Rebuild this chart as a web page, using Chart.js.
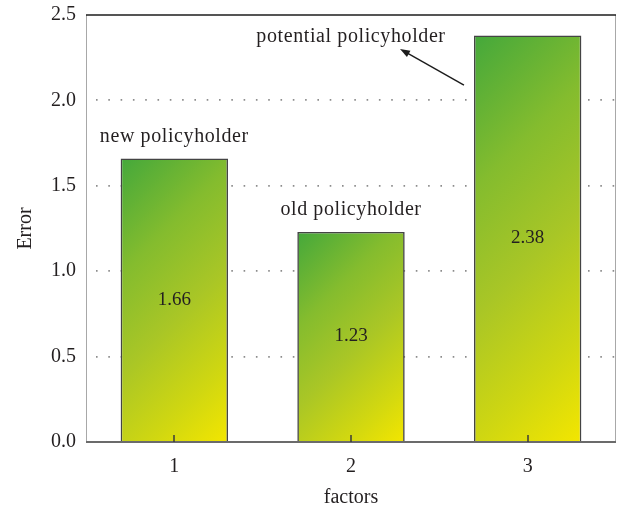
<!DOCTYPE html>
<html>
<head>
<meta charset="utf-8">
<script src="https://cdn.jsdelivr.net/npm/chart.js@4/dist/chart.umd.min.js"></script>
<style>
  html, body { margin: 0; padding: 0; background: #ffffff; }
  #wrap { width: 617px; height: 513px; }
</style>
</head>
<body>
<div id="wrap"><canvas id="chart" width="617" height="513"></canvas></div>
<script>
// Data
const factors = ['1', '2', '3'];
const errorValues = [1.66, 1.23, 2.38];
const groupNames = ['new policyholder', 'old policyholder', 'potential policyholder'];
const yTickValues = [0, 0.5, 1.0, 1.5, 2.0, 2.5];

const SERIF = '"Liberation Serif", "Times New Roman", serif';
const INK = '#231f20';
const BAR_FRACTION = 0.608;

// Diagonal green-to-yellow fill, running from each bar's top-left corner at 45 degrees
function barGradient(c) {
  const chart = c.chart;
  const area = chart.chartArea;
  if (!area || c.type !== 'data') return '#a8c52a';
  const xs = chart.scales.x, ys = chart.scales.y;
  const cx = xs.getPixelForValue(c.dataIndex);
  const half = (xs.width / factors.length) * BAR_FRACTION / 2;
  const top = ys.getPixelForValue(c.raw);
  const bottom = ys.getPixelForValue(0);
  const left = cx - half;
  const s = (2 * half + (bottom - top)) / 2;
  const g = chart.ctx.createLinearGradient(left, top, left + s, top + s);
  g.addColorStop(0, '#44a83b');
  g.addColorStop(0.3, '#84bc2e');
  g.addColorStop(0.55, '#a9c626');
  g.addColorStop(0.8, '#d0d711');
  g.addColorStop(1, '#f3e600');
  return g;
}

function strokeLine(ctx, x1, y1, x2, y2) {
  ctx.beginPath();
  ctx.moveTo(x1, y1);
  ctx.lineTo(x2, y2);
  ctx.stroke();
}

// Frame, inner tick marks, value labels and group annotations
const overlay = {
  id: 'overlay',
  afterDatasetsDraw(chart) {
    const { ctx, chartArea: a, scales: { x, y } } = chart;
    const bars = chart.getDatasetMeta(0).data;
    ctx.save();
    ctx.lineCap = 'butt';

    // plot frame
    ctx.strokeStyle = '#a8a8a8';
    ctx.lineWidth = 1;
    strokeLine(ctx, a.left + 0.5, a.top, a.left + 0.5, a.bottom);
    strokeLine(ctx, a.right - 0.5, a.top, a.right - 0.5, a.bottom);
    ctx.strokeStyle = '#1c1c1c';
    ctx.lineWidth = 1.5;
    strokeLine(ctx, a.left, a.top, a.right, a.top);
    ctx.strokeStyle = '#6b6b6b';
    ctx.lineWidth = 2;
    strokeLine(ctx, a.left, a.bottom, a.right, a.bottom);

    // category tick marks pointing into the plot
    ctx.strokeStyle = '#3a3a3a';
    ctx.lineWidth = 1.5;
    factors.forEach((f, i) => {
      const px = Math.round(x.getPixelForValue(i));
      strokeLine(ctx, px, a.bottom, px, a.bottom - 7);
    });

    // values inside the bars
    ctx.fillStyle = INK;
    ctx.textAlign = 'center';
    ctx.textBaseline = 'middle';
    ctx.font = '19px ' + SERIF;
    bars.forEach((bar, i) => {
      ctx.fillText(errorValues[i].toFixed(2), bar.x, (bar.y + bar.base) / 2);
    });

    // group names
    ctx.font = '20px ' + SERIF;
    ctx.letterSpacing = '0.6px';
    ctx.fillText(groupNames[0], bars[0].x, bars[0].y - 22);
    ctx.fillText(groupNames[1], bars[1].x, bars[1].y - 22);
    const labelX = x.getPixelForValue(1);
    const labelY = a.top + 22;
    ctx.fillText(groupNames[2], labelX, labelY);
    ctx.letterSpacing = '0px';

    // arrow from the tall bar to its label
    const left3 = bars[2].x - bars[2].width / 2;
    const sx = left3 - 10, sy = y.getPixelForValue(2.09);
    const tx = labelX + 49, ty = labelY + 12;
    ctx.strokeStyle = '#1c1c1c';
    ctx.fillStyle = '#1c1c1c';
    ctx.lineWidth = 1.4;
    const ang = Math.atan2(ty - sy, tx - sx);
    const head = 10, wing = 3.6;
    const bx = tx - head * Math.cos(ang), by = ty - head * Math.sin(ang);
    strokeLine(ctx, sx, sy, bx + 2 * Math.cos(ang), by + 2 * Math.sin(ang));
    ctx.beginPath();
    ctx.moveTo(tx, ty);
    ctx.lineTo(bx + wing * Math.sin(ang), by - wing * Math.cos(ang));
    ctx.lineTo(bx - wing * Math.sin(ang), by + wing * Math.cos(ang));
    ctx.closePath();
    ctx.fill();

    ctx.restore();
  }
};

new Chart(document.getElementById('chart'), {
  type: 'bar',
  data: {
    labels: factors,
    datasets: [{
      label: 'Error',
      data: errorValues,
      backgroundColor: barGradient,
      borderColor: '#444444',
      borderWidth: 1.6,
      barPercentage: BAR_FRACTION,
      categoryPercentage: 1
    }]
  },
  options: {
    responsive: false,
    animation: false,
    devicePixelRatio: 1,
    layout: { padding: { top: 15, right: 1, left: 0, bottom: 0 } },
    plugins: { legend: { display: false }, tooltip: { enabled: false } },
    scales: {
      x: {
        grid: { display: false, drawTicks: false },
        border: { display: false },
        ticks: { color: INK, font: { family: SERIF, size: 20 }, padding: 13 },
        title: {
          display: true, text: 'factors', color: INK,
          font: { family: SERIF, size: 20 }, padding: { top: 0, bottom: 3 }
        },
        afterFit(scale) {
          scale.height = 71;
          scale.paddingLeft = 0;
          scale.paddingRight = 0;
        }
      },
      y: {
        min: 0,
        max: 2.5,
        afterBuildTicks(scale) { scale.ticks = yTickValues.map(v => ({ value: v })); },
        grid: {
          drawTicks: false,
          lineWidth: 1.8,
          color: c => (c.tick && c.tick.value > 0 && c.tick.value < 2.5) ? '#8c8c8c' : 'rgba(0,0,0,0)'
        },
        border: { display: false, dash: [1.6, 10.7], dashOffset: 2.3 },
        ticks: {
          color: INK, font: { family: SERIF, size: 20 }, padding: 10,
          callback: v => Number(v).toFixed(1)
        },
        title: {
          display: true, text: 'Error', color: INK,
          font: { family: SERIF, size: 20 }, padding: { top: 14, bottom: 0 }
        },
        afterFit(scale) {
          scale.width = 86;
          scale.paddingTop = 0;
          scale.paddingBottom = 0;
        }
      }
    }
  },
  plugins: [overlay]
});
</script>
</body>
</html>
